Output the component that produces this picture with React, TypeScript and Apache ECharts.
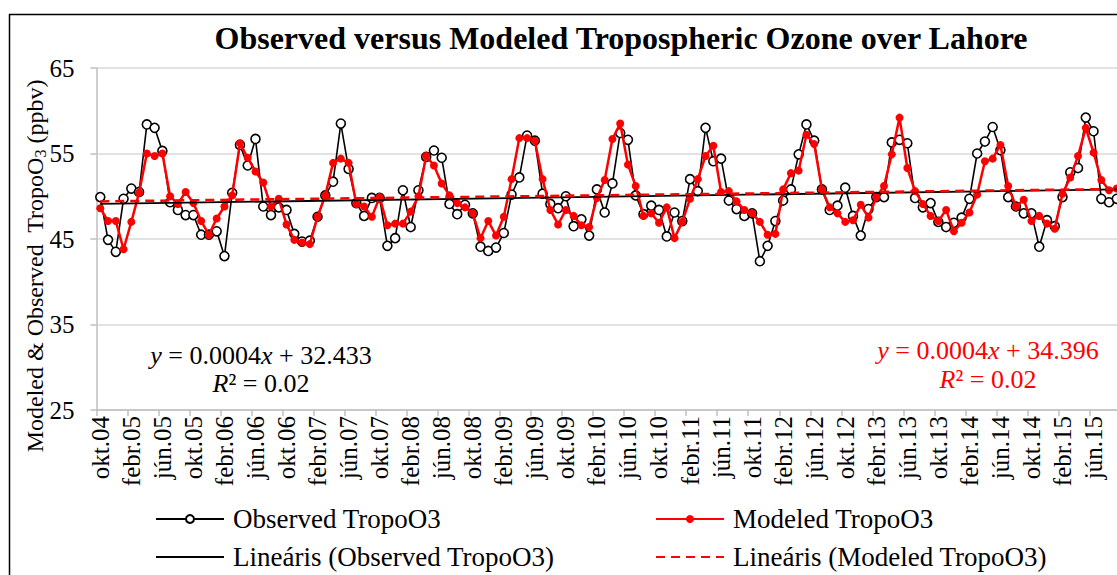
import React, { useEffect, useRef } from "react";
import * as echarts from "echarts";

const FONT = "'Liberation Serif', 'Times New Roman', serif";

const MONTHS = ["jan.", "febr.", "márc.", "ápr.", "máj.", "jún.", "júl.", "aug.", "szept.", "okt.", "nov.", "dec."];
const START_YEAR = 2004;
const START_MONTH = 9; // okt.
const N_MONTHS = 132;

const categories: string[] = [];
for (let k = 0; k < N_MONTHS; k++) {
  const m = (START_MONTH + k) % 12;
  const y = START_YEAR + Math.floor((START_MONTH + k) / 12);
  categories.push(MONTHS[m] + String(y % 100).padStart(2, "0"));
}

const observed = [
  49.9, 44.9, 43.5, 49.7, 50.9, 50.5, 58.4, 58.0, 55.3, 49.3, 48.4, 47.8, 47.8, 45.5, 45.5, 45.9,
  43.0, 50.4, 56.0, 53.6, 56.7, 48.8, 47.8, 48.7, 48.4, 45.6, 44.7, 44.8, 47.6, 50.1, 51.7, 58.5,
  53.2, 49.2, 47.7, 49.8, 49.8, 44.2, 45.1, 50.7, 46.4, 50.7, 54.6, 55.35, 54.5, 49.1, 47.9, 49.0,
  48.0, 44.1, 43.6, 44.0, 45.7, 50.2, 52.2, 57.1, 56.5, 50.3, 49.1, 48.6, 50.0, 46.5, 47.3, 45.4,
  50.8, 48.1, 51.5, 57.4, 56.6, 50.1, 47.9, 48.9, 48.4, 45.3, 48.1, 47.1, 52.0, 50.6, 58.0, 54.1,
  54.4, 49.5, 48.5, 47.7, 48.0, 42.4, 44.2, 47.1, 49.5, 50.8, 54.9, 58.4, 56.5, 50.8, 48.4, 48.9,
  51.0, 47.7, 45.4, 48.5, 49.9, 49.9, 56.3, 56.6, 56.2, 49.8, 48.7, 49.2, 47.0, 46.4, 46.9, 47.5,
  49.7, 55.0, 56.4, 58.1, 55.4, 49.9, 48.8, 48.0, 48.0, 44.1, 47.2, 46.5, 49.9, 52.8, 53.3, 59.2,
  57.6, 49.7, 49.3, 49.7,
];

const modeled = [
  48.6, 47.1, 47.1, 43.8, 47.0, 50.4, 55.0, 54.7, 55.0, 50.0, 49.1, 50.5, 49.2, 47.1, 45.5, 47.4,
  48.8, 50.1, 56.2, 54.5, 52.9, 51.6, 48.8, 49.7, 46.7, 44.9, 44.6, 44.4, 47.6, 50.1, 53.9, 54.4,
  53.9, 49.1, 48.8, 47.6, 49.9, 46.6, 46.8, 46.8, 48.2, 50.0, 54.7, 53.6, 51.5, 50.1, 49.2, 48.7,
  48.0, 45.1, 47.1, 45.4, 47.6, 52.0, 56.8, 56.8, 56.5, 52.0, 48.4, 46.7, 48.4, 47.7, 46.6, 46.4,
  49.8, 51.9, 56.7, 58.5, 53.7, 51.2, 47.7, 48.0, 46.9, 48.7, 45.1, 47.0, 49.7, 52.0, 54.7, 55.9,
  50.5, 50.6, 49.4, 48.4, 48.0, 47.0, 45.5, 45.6, 50.8, 52.7, 53.0, 57.2, 56.1, 50.8, 48.7, 48.0,
  47.0, 47.2, 49.0, 47.5, 49.9, 51.2, 54.9, 59.2, 53.3, 50.6, 49.1, 47.7, 47.1, 48.4, 45.9, 46.9,
  48.1, 50.2, 54.1, 54.4, 56.0, 51.2, 48.8, 49.6, 47.1, 47.7, 46.8, 46.2, 50.3, 52.2, 54.7, 58.0,
  55.1, 51.9, 50.7, 50.9,
];

// trend line end points [category index, value]
const observedTrend = [[0, 49.1], [131, 50.8]];
const modeledTrend = [[0, 49.4], [131, 50.85]];

const yTicks = { min: 25, max: 65, interval: 10 };

const TITLE = "Observed versus Modeled Tropospheric Ozone over Lahore";
const S_OBS = "Observed TropoO3";
const S_MOD = "Modeled TropoO3";
const S_OBS_LIN = "Lineáris (Observed TropoO3)";
const S_MOD_LIN = "Lineáris (Modeled TropoO3)";

export default function App() {
  const ref = useRef<HTMLDivElement>(null);

  useEffect(() => {
    if (!ref.current) return;
    const chart = echarts.init(ref.current, null, { renderer: "svg" });
    const legendText = { fontFamily: FONT, fontSize: 27, color: "#000", lineHeight: 30, padding: [0, 0, 0, 4] };
    const mkLegend = (name: string, left: number, top: number, hideSymbol: boolean) => ({
      left, top, orient: "horizontal", itemGap: 8, itemWidth: 68, itemHeight: 10,
      selectedMode: false, data: [name], textStyle: legendText,
      ...(hideSymbol ? { itemStyle: { opacity: 0 } } : {}),
    });
    const eqRich = (color: string) => ({
      n: { fontFamily: FONT, fontSize: 26, fill: color, color },
      i: { fontFamily: FONT, fontSize: 26, fontStyle: "italic", fill: color, color },
    });
    chart.setOption({
      animation: false,
      backgroundColor: "#fff",
      grid: { left: 96.4, top: 68, width: 1024.3, height: 342, containLabel: false },
      xAxis: {
        type: "category",
        data: categories,
        boundaryGap: true,
        axisLine: { lineStyle: { color: "#bfbfbf", width: 1.5 } },
        axisTick: { show: true, interval: 3, length: 6, lineStyle: { color: "#bfbfbf", width: 1.5 } },
        axisLabel: { interval: 3, rotate: 90, margin: 6, fontFamily: FONT, fontSize: 25, color: "#000" },
        splitLine: { show: false },
      },
      yAxis: {
        type: "value",
        min: yTicks.min,
        max: yTicks.max,
        interval: yTicks.interval,
        axisLine: { show: true, lineStyle: { color: "#bfbfbf", width: 1.5 } },
        axisTick: { show: true, length: 6, lineStyle: { color: "#bfbfbf", width: 1.5 } },
        axisLabel: { margin: 22, fontFamily: FONT, fontSize: 25, color: "#000" },
        splitLine: { show: true, lineStyle: { color: "#d9d9d9", width: 1.5 } },
      },
      legend: [
        mkLegend(S_OBS, 150, 499, false),
        mkLegend(S_OBS_LIN, 150, 537, true),
        mkLegend(S_MOD, 650, 499, false),
        mkLegend(S_MOD_LIN, 650, 537, true),
      ],
      series: [
        {
          name: S_OBS, type: "line", data: observed, z: 2,
          symbol: "circle", symbolSize: 9, showSymbol: true, showAllSymbol: true,
          lineStyle: { color: "#000", width: 1.6 },
          itemStyle: { color: "#fff", borderColor: "#000", borderWidth: 1.6 },
        },
        {
          name: S_MOD, type: "line", data: modeled, z: 3,
          symbol: "circle", symbolSize: 8, showSymbol: true, showAllSymbol: true,
          lineStyle: { color: "#ff0000", width: 2.5 },
          itemStyle: { color: "#ff0000", borderColor: "#ff0000", borderWidth: 0 },
        },
        {
          name: S_OBS_LIN, type: "line", data: observedTrend, z: 4, symbol: "none",
          lineStyle: { color: "#000", width: 1.8 }, itemStyle: { color: "#000" },
        },
        {
          name: S_MOD_LIN, type: "line", data: modeledTrend, z: 5, symbol: "none",
          lineStyle: { color: "#ff0000", width: 2.5, type: [9, 6] }, itemStyle: { color: "#ff0000" },
        },
      ],
      graphic: [
        {
          type: "rect", silent: true, z: -1,
          shape: { x: 9.5, y: 14.5, width: 1300, height: 700 },
          style: { fill: "none", stroke: "#000", lineWidth: 1.5 },
        },
        {
          type: "text", x: 621, y: 38,
          style: {
            text: TITLE, fontFamily: FONT, fontSize: 32, fontWeight: "bold", fill: "#000",
            align: "center", verticalAlign: "middle",
          },
        },
        {
          type: "text", x: 35, y: 266, rotation: Math.PI / 2,
          style: {
            text: "{a|Modeled & Observed  TropoO}{s|3}{a| (ppbv)}",
            align: "center", verticalAlign: "middle",
            rich: {
              a: { fontFamily: FONT, fontSize: 24, fill: "#000", lineHeight: 30, verticalAlign: "middle" },
              s: { fontFamily: FONT, fontSize: 16, fill: "#000", lineHeight: 30, verticalAlign: "bottom", padding: [0, 0, 2, 0] },
            },
          },
        },
        {
          type: "text", x: 261, y: 355,
          style: { text: "{i|y}{n| = 0.0004}{i|x}{n| + 32.433}", align: "center", verticalAlign: "middle", rich: eqRich("#000") },
        },
        {
          type: "text", x: 261, y: 383,
          style: { text: "{i|R}{n|² = 0.02}", align: "center", verticalAlign: "middle", rich: eqRich("#000") },
        },
        {
          type: "text", x: 988, y: 350,
          style: { text: "{i|y}{n| = 0.0004}{i|x}{n| + 34.396}", align: "center", verticalAlign: "middle", rich: eqRich("#ff0000") },
        },
        {
          type: "text", x: 988, y: 379,
          style: { text: "{i|R}{n|² = 0.02}", align: "center", verticalAlign: "middle", rich: eqRich("#ff0000") },
        },
      ],
    });
    return () => chart.dispose();
  }, []);

  return (
    <div style={{ position: "fixed", left: 0, top: 0, width: 1117, height: 575, overflow: "hidden", background: "#fff" }}>
      <div ref={ref} style={{ width: 1130, height: 575 }} />
    </div>
  );
}
